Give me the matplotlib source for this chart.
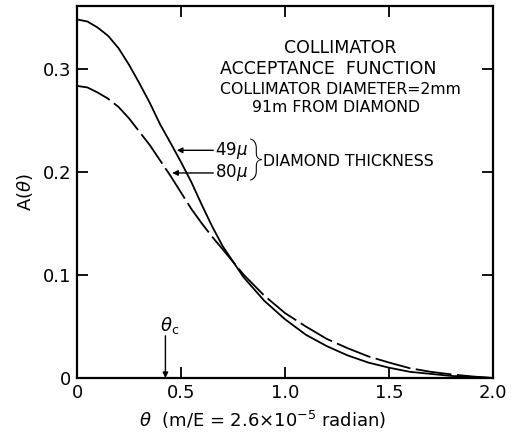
import numpy as np
import matplotlib
matplotlib.use("Agg")
import matplotlib.pyplot as plt

plt.rcParams['font.family'] = ['DejaVu Sans']
plt.rcParams['mathtext.fontset'] = 'dejavusans'

# acceptance function A(theta), theta in units of m/E
theta = [0.0, 0.05, 0.1, 0.15, 0.2, 0.25, 0.3, 0.35, 0.4, 0.45, 0.5, 0.55,
         0.6, 0.65, 0.7, 0.8, 0.9, 1.0, 1.1, 1.2, 1.3, 1.4, 1.5, 1.6, 1.7,
         1.8, 1.9, 2.0]
a_49 = [0.348, 0.346, 0.340, 0.332, 0.320, 0.304, 0.286, 0.267, 0.246, 0.228,
        0.2095, 0.190, 0.168, 0.147, 0.128, 0.098, 0.075, 0.057, 0.042, 0.031,
        0.022, 0.015, 0.010, 0.006, 0.004, 0.002, 0.001, 0.0]
a_80 = [0.2835, 0.282, 0.277, 0.271, 0.263, 0.252, 0.239, 0.226, 0.211, 0.196,
        0.180, 0.164, 0.150, 0.137, 0.125, 0.1005, 0.080, 0.063, 0.050, 0.038,
        0.029, 0.021, 0.015, 0.0095, 0.006, 0.0035, 0.0015, 0.0]
theta_c = 0.425

fig = plt.figure(figsize=(5.12, 4.32), dpi=100)
ax = fig.add_axes([0.1504, 0.125, 0.8126, 0.861])

ax.plot(theta, a_49, color='black', lw=1.3)
ax.plot(theta, a_80, color='black', lw=1.3, dashes=(20, 3))

ax.set_xlim(0, 2.0)
ax.set_ylim(0, 0.361)
ax.set_xticks([0, 0.5, 1.0, 1.5, 2.0])
ax.set_xticklabels(['0', '0.5', '1.0', '1.5', '2.0'])
ax.set_yticks([0, 0.1, 0.2, 0.3])
ax.set_yticklabels(['0', '0.1', '0.2', '0.3'])
ax.tick_params(direction='in', length=8, width=1.3, top=True, right=True,
               labelsize=13, pad=4)
for s in ax.spines.values():
    s.set_linewidth(1.6)

ax.set_xlabel(r'$\theta$  (m/E = 2.6$\times$10$^{-5}$ radian)', fontsize=13,
              x=0.447, labelpad=5)
ax.set_ylabel(r'A($\theta$)', fontsize=13, labelpad=6)

# text block
ax.text(1.265, 0.320, 'COLLIMATOR', fontsize=12.5, ha='center', va='center')
ax.text(1.21, 0.300, 'ACCEPTANCE  FUNCTION', fontsize=12.5, ha='center', va='center')
ax.text(1.265, 0.2796, 'COLLIMATOR DIAMETER=2mm', fontsize=11.3, ha='center', va='center')
ax.text(1.245, 0.263, '91m FROM DIAMOND', fontsize=11.3, ha='center', va='center')

# thickness labels with arrows
arrow = dict(arrowstyle='-|>', color='black', lw=1.0, mutation_scale=8,
             shrinkA=0, shrinkB=0)
ax.annotate('', xy=(0.48, 0.221), xytext=(0.655, 0.221), arrowprops=arrow)
ax.annotate('', xy=(0.458, 0.199), xytext=(0.655, 0.199), arrowprops=arrow)
ax.text(0.665, 0.221, r'49$\mu$', fontsize=12, ha='left', va='center')
ax.text(0.665, 0.199, r'80$\mu$', fontsize=12, ha='left', va='center')
ax.text(0.858, 0.211, '}', fontsize=30, family=['Roboto', 'DejaVu Sans'],
        fontweight='light', ha='center', va='center')
ax.text(0.893, 0.210, 'DIAMOND THICKNESS', fontsize=11.3, ha='left', va='center')

# critical angle marker
ax.annotate('', xy=(theta_c, 0.0), xytext=(theta_c, 0.041), arrowprops=arrow)
ax.text(theta_c + 0.02, 0.051, r'$\theta_{\rm c}$', fontsize=13,
        ha='center', va='center')

fig.savefig('out.png', dpi=100)
